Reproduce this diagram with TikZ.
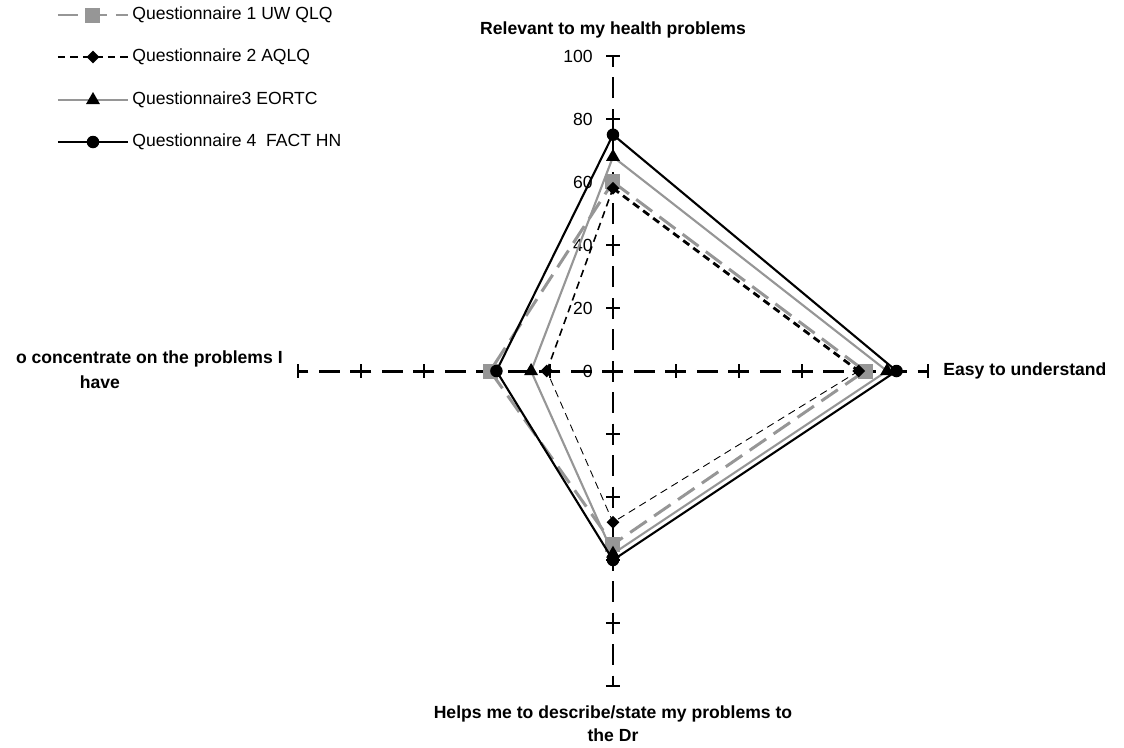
\documentclass[tikz,border=0pt]{standalone}
\usepackage{fontspec}
\setmainfont{Liberation Sans}
\usetikzlibrary{shapes.geometric}
\definecolor{qgrey}{RGB}{150,150,150}
\newcommand\unitr{0.063}% cm per percent along an axis

\tikzset{
  axisline/.style={black, line width=1.7pt, dash pattern=on 0.42cm off 0.21cm, dash phase=0.21cm},
  tickmark/.style={black, line width=1.2pt},
  ticklabel/.style={anchor=east, inner sep=0pt, font=\fontsize{10}{12}\selectfont},
  axislabel/.style={inner sep=0pt, font=\bfseries\fontsize{10}{13}\selectfont},
  legtext/.style={anchor=west, inner sep=0pt, font=\fontsize{10}{12}\selectfont},
  uwline/.style={qgrey, line width=1.7pt, dash pattern=on 0.4cm off 0.18cm},
  aqline/.style={black, dash pattern=on 0.15cm off 0.1cm},
  eoline/.style={qgrey, line width=1.2pt},
  fhline/.style={black, line width=1.2pt},
  uwmark/.style={rectangle, fill=qgrey, minimum size=0.3cm, inner sep=0pt},
  aqmark/.style={diamond, fill=black, minimum size=0.26cm, inner sep=0pt},
  eomark/.style={regular polygon, regular polygon sides=3, fill=black, minimum size=0.32cm, inner sep=0pt},
  fhmark/.style={circle, fill=black, minimum size=0.25cm, inner sep=0pt}
}

\begin{document}
\begin{tikzpicture}
	\useasboundingbox (-12.26,-7.52) rectangle (10.22,7.42);
	%% axes
	\coordinate (o) at (0,0);
	\foreach \ang/\name in {90/top, 0/right, 270/bottom, 180/left}{
		\coordinate (\name) at (\ang:100*\unitr);
		\draw[axisline] (o) -- (\name);
		\foreach \k in {0,...,5}
			\draw[tickmark, rotate=\ang] (\k*20*\unitr,-0.14) -- (\k*20*\unitr,0.14);
	}
	\foreach \k in {0,20,...,100}
		\node[ticklabel] (tl\k) at (-0.4,\k*\unitr) {\k};
	%% axis labels
	\node[axislabel] (labtop) at (0,6.82) {Relevant to my health problems};
	\node[axislabel, anchor=west] (labright) at (6.6,0) {Easy to understand};
	\node[axislabel, align=center] (labbottom) at (0,-7.05) {Helps me to describe/state my problems to\\the Dr};
	\node[axislabel, anchor=east] (lableft) at (-6.6,0.24) {o concentrate on the problems I};
	\node[axislabel] (lableft2) at (-10.26,-0.22) {have};
	%% data: top / right / bottom / left
	\foreach \name/\t/\r/\b/\l in {uw/60/80/55/39, aq/58/78/48/21, eo/68/87/58/26, fh/75/90/60/37}{
		\coordinate (\name-t) at (90:\t*\unitr);
		\coordinate (\name-r) at (0:\r*\unitr);
		\coordinate (\name-b) at (270:\b*\unitr);
		\coordinate (\name-l) at (180:\l*\unitr);
	}
	%% Questionnaire 1
	\draw[uwline] (uw-t) -- (uw-r) -- (uw-b) -- (uw-l) -- cycle;
	\foreach \p in {t,r,b,l} \node[uwmark] (uwm-\p) at (uw-\p) {};
	%% Questionnaire 2
	\draw[aqline, line width=1.6pt] (aq-t) -- (aq-r);
	\draw[aqline, line width=0.5pt] (aq-r) -- (aq-b) -- (aq-l);
	\draw[aqline, line width=0.9pt] (aq-l) -- (aq-t);
	\foreach \p in {t,r,b,l} \node[aqmark] (aqm-\p) at (aq-\p) {};
	%% Questionnaire 3
	\draw[eoline] (eo-t) -- (eo-r) -- (eo-b) -- (eo-l) -- cycle;
	\foreach \p in {t,r,b,l} \node[eomark] (eom-\p) at (eo-\p) {};
	%% Questionnaire 4
	\draw[fhline] (fh-t) -- (fh-r) -- (fh-b) -- (fh-l) -- cycle;
	\foreach \p in {t,r,b,l} \node[fhmark] (fhm-\p) at (fh-\p) {};
	%% legend
	\foreach \i/\y/\ln/\mk/\txt in {1/7.12/uwline/uwmark/Questionnaire 1 UW QLQ,
	                               2/6.28/aqline/aqmark/Questionnaire 2 AQLQ,
	                               3/5.42/eoline/eomark/Questionnaire3 EORTC,
	                               4/4.58/fhline/fhmark/Questionnaire 4\ \ FACT HN}{
		\coordinate (leg\i a) at (-11.1,\y);
		\coordinate (leg\i b) at (-9.7,\y);
		\draw[\ln, line width=1.3pt] (leg\i a) -- (leg\i b);
		\node[\mk] (leg\i m) at (-10.4,\y) {};
		\node[legtext] (leg\i) at (-9.62,\y) {\txt};
	}
\end{tikzpicture}
\end{document}
